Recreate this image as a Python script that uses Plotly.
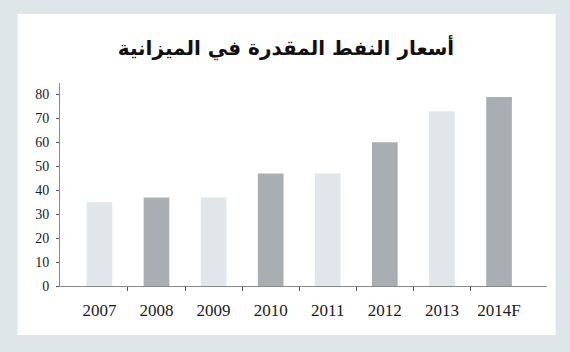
import plotly.graph_objects as go

years = ["2007", "2008", "2009", "2010", "2011", "2012", "2013", "2014F"]
prices = [35, 37, 37, 47, 47, 60, 73, 79]
bar_colors = ["#e0e6ea", "#a9aeb3", "#e0e6ea", "#a9aeb3", "#e0e6ea", "#a9aeb3", "#e0e6ea", "#a9aeb3"]
y_ticks = [0, 10, 20, 30, 40, 50, 60, 70, 80]
title_text = "أسعار النفط المقدرة في الميزانية"

W, H = 570, 352
L, R, T, B = 60, 23, 83, 66
pw, ph = W - L - R, H - T - B

def px_x(p):
    return (p - L) / pw

def px_y(p):
    return (H - B - p) / ph

pos = list(range(len(years)))
xr = [-0.69, 7.84]

fig = go.Figure()
fig.add_trace(go.Bar(x=pos, y=prices, marker=dict(color=bar_colors, line=dict(width=0)),
                     hoverinfo="skip", xaxis="x", yaxis="y"))
# invisible trace for the secondary axis carrying boundary ticks
fig.add_trace(go.Scatter(x=[pos[0]], y=[0], mode="markers", marker=dict(opacity=0),
                         xaxis="x2", yaxis="y", showlegend=False, hoverinfo="skip"))

fig.update_layout(
    width=W, height=H,
    margin=dict(l=L, r=R, t=T, b=B),
    paper_bgcolor="#dfe6ea",
    plot_bgcolor="rgba(0,0,0,0)",
    showlegend=False,
    bargap=0.55,
    title=dict(text=title_text, x=286 / W, xref="container", xanchor="center",
               y=1 - 48 / H, yref="container", yanchor="middle",
               font=dict(family="DejaVu Sans", size=20, color="#111111", weight="bold")),
    xaxis=dict(range=xr, tickmode="array", tickvals=pos, ticktext=years,
               showline=True, linecolor="#8a8a8a", linewidth=1, ticks="", showgrid=False,
               zeroline=False, tickfont=dict(family="Liberation Serif", size=17, color="#1a1a1a"),
               ticklabelstandoff=9),
    xaxis2=dict(range=xr, overlaying="x", tickmode="array",
                tickvals=[p + 0.5 for p in pos[:-1]], showticklabels=False,
                ticks="outside", ticklen=4, tickcolor="#555555", showgrid=False,
                zeroline=False, showline=False, side="bottom", anchor="y"),
    yaxis=dict(range=[0, 84.8], tickmode="array", tickvals=y_ticks,
               ticks="outside", ticklen=3, tickcolor="#555555",
               showline=True, linecolor="#8a8a8a", linewidth=1, showgrid=False,
               zeroline=False, tickfont=dict(family="Liberation Serif", size=14, color="#1a1a1a"),
               ticklabelstandoff=4),
    shapes=[dict(type="rect", xref="paper", yref="paper", layer="below",
                 x0=px_x(17.5), x1=px_x(555.6), y0=px_y(335), y1=px_y(14),
                 fillcolor="#ffffff", line=dict(width=0))],
)

fig.write_html("out.html")
